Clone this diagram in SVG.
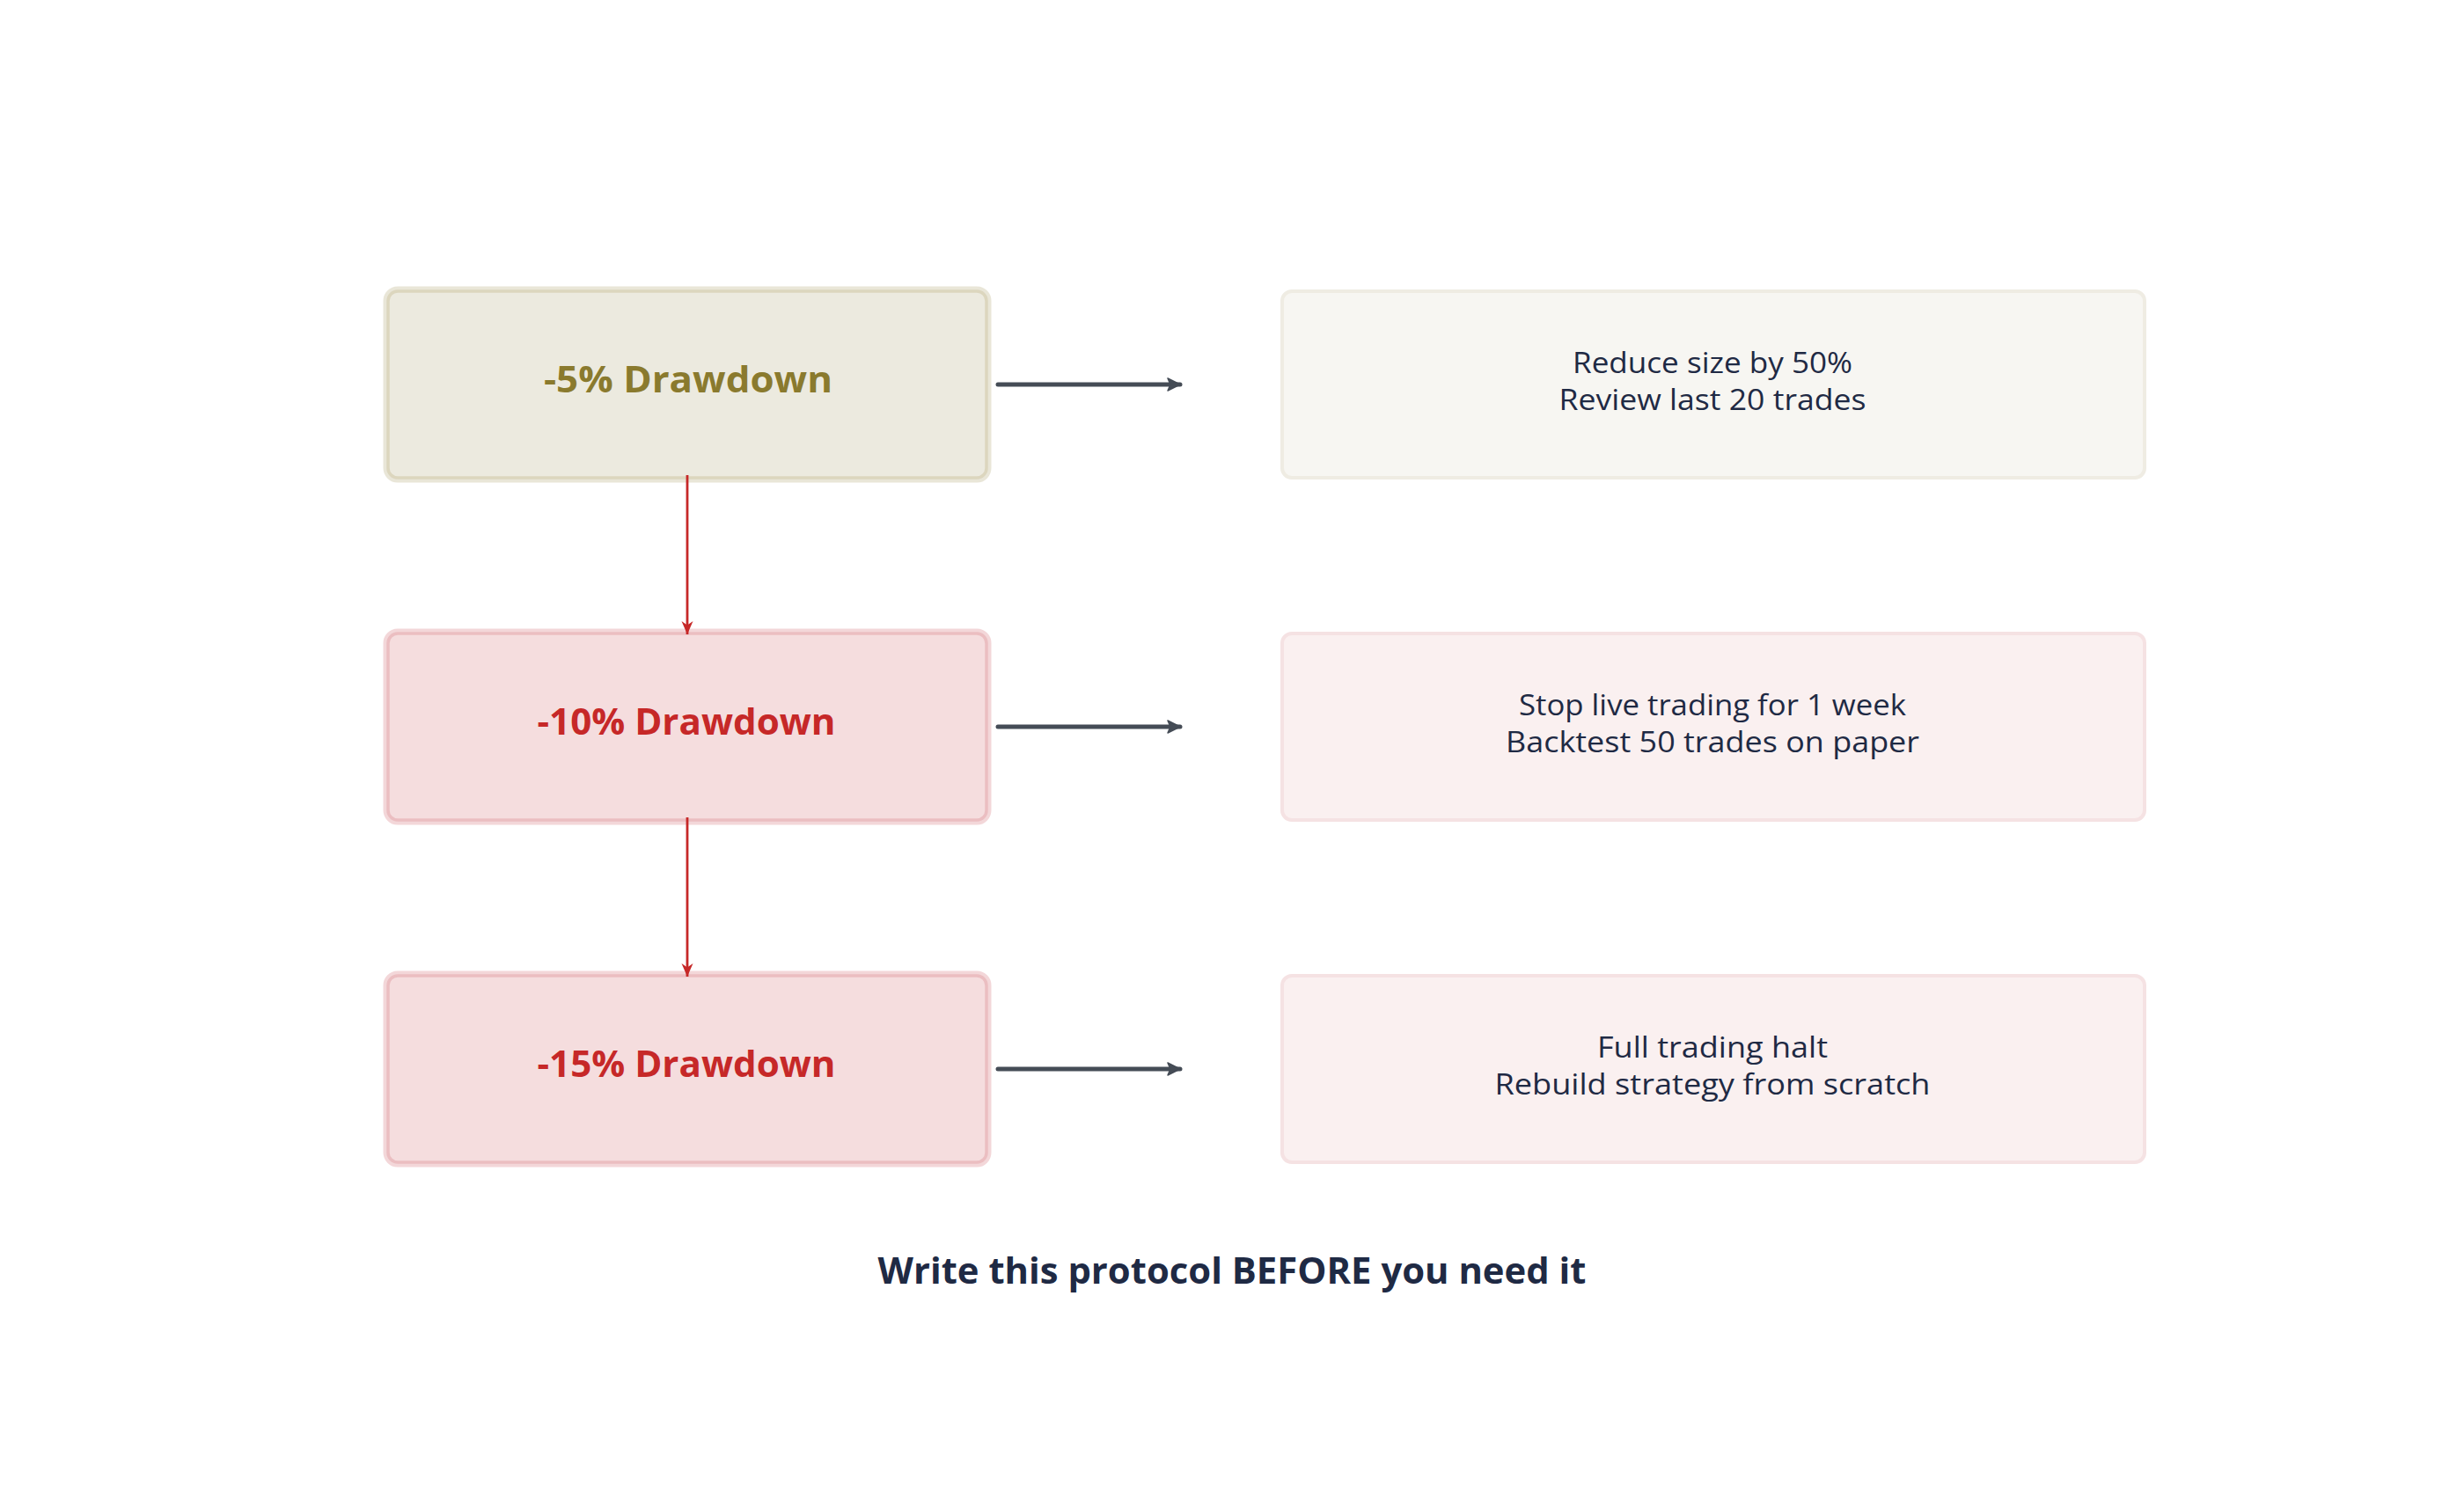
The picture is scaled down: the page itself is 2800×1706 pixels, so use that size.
<svg xmlns="http://www.w3.org/2000/svg" width="2800" height="1706" viewBox="0 0 2800 1706">
<style>
.lbl{font-family:"Open Sans","Liberation Sans",sans-serif;font-weight:700;font-size:42px;text-anchor:middle}
.act{font-family:"Open Sans","Liberation Sans",sans-serif;font-weight:400;font-size:33px;fill:#1F2A44;text-anchor:middle}
.title{font-family:"Open Sans","Liberation Sans",sans-serif;font-weight:700;font-size:42px;fill:#1F2A44;text-anchor:middle}
.halo-o{fill:none;stroke:#E9E6D8;stroke-width:11}
.box-o{fill:#ECEADF;stroke:#DCD6BE;stroke-width:3.5}
.halo-r{fill:none;stroke:#F3D7D9;stroke-width:11}
.box-r{fill:#F5DDDE;stroke:#EBBEC1;stroke-width:3.5}
.act-o{fill:#F7F6F2;stroke:#EFECE3;stroke-width:4}
.act-r{fill:#FAF0F0;stroke:#F5E2E3;stroke-width:4}
.gray{stroke:#454C56;stroke-width:5;stroke-linecap:round;fill:none}
.red{stroke:#C62828;stroke-width:2.8;fill:none}
</style>
<defs>
<marker id="ag" markerUnits="userSpaceOnUse" viewBox="0 0 16 16" refX="15" refY="8" markerWidth="16" markerHeight="16" orient="auto">
<path d="M1,1 L15,8 L1,15 L4,8 z" fill="#454C56" stroke="#454C56" stroke-width="1.5" stroke-linejoin="round"/>
</marker>
<marker id="ar" markerUnits="userSpaceOnUse" viewBox="0 0 16 16" refX="15" refY="8" markerWidth="16" markerHeight="16" orient="auto">
<path d="M0,1.5 L15,8 L0,14.5 L4.5,8 z" fill="#C62828"/>
</marker>
</defs>
<rect width="2800" height="1706" fill="#FFFFFF"/>
<g id="trigger-5">
<rect class="halo-o" x="441" y="331" width="680" height="212" rx="11"/>
<rect class="box-o" x="441" y="331" width="680" height="212" rx="11"/>
<text class="lbl" x="782" y="446" fill="#8A7A2E" textLength="328" lengthAdjust="spacingAndGlyphs">-5% Drawdown</text>
</g>
<g id="trigger-10">
<rect class="halo-r" x="441" y="720" width="680" height="212" rx="11"/>
<rect class="box-r" x="441" y="720" width="680" height="212" rx="11"/>
<text class="lbl" x="780" y="835" fill="#C62828" textLength="339" lengthAdjust="spacingAndGlyphs">-10% Drawdown</text>
</g>
<g id="trigger-15">
<rect class="halo-r" x="441" y="1109" width="680" height="212" rx="11"/>
<rect class="box-r" x="441" y="1109" width="680" height="212" rx="11"/>
<text class="lbl" x="780" y="1224" fill="#C62828" textLength="339" lengthAdjust="spacingAndGlyphs">-15% Drawdown</text>
</g>
<g id="action-5">
<rect class="act-o" x="1457" y="331" width="980" height="212" rx="11"/>
<text class="act" x="1946" y="424" textLength="318" lengthAdjust="spacingAndGlyphs">Reduce size by 50%</text>
<text class="act" x="1946" y="466" textLength="349" lengthAdjust="spacingAndGlyphs">Review last 20 trades</text>
</g>
<g id="action-10">
<rect class="act-r" x="1457" y="720" width="980" height="212" rx="11"/>
<text class="act" x="1946" y="813" textLength="440" lengthAdjust="spacingAndGlyphs">Stop live trading for 1 week</text>
<text class="act" x="1946" y="855" textLength="470" lengthAdjust="spacingAndGlyphs">Backtest 50 trades on paper</text>
</g>
<g id="action-15">
<rect class="act-r" x="1457" y="1109" width="980" height="212" rx="11"/>
<text class="act" x="1946" y="1202" textLength="262" lengthAdjust="spacingAndGlyphs">Full trading halt</text>
<text class="act" x="1946" y="1244" textLength="495" lengthAdjust="spacingAndGlyphs">Rebuild strategy from scratch</text>
</g>
<g id="connectors">
<line class="gray" x1="1134" y1="437" x2="1341" y2="437" marker-end="url(#ag)"/>
<line class="gray" x1="1134" y1="826" x2="1341" y2="826" marker-end="url(#ag)"/>
<line class="gray" x1="1134" y1="1215" x2="1341" y2="1215" marker-end="url(#ag)"/>
<line class="red" x1="781" y1="540" x2="781" y2="721" marker-end="url(#ar)"/>
<line class="red" x1="781" y1="929" x2="781" y2="1110" marker-end="url(#ar)"/>
</g>
<g id="footer">
<text class="title" x="1400" y="1459" textLength="805" lengthAdjust="spacingAndGlyphs">Write this protocol BEFORE you need it</text>
</g>
</svg>
